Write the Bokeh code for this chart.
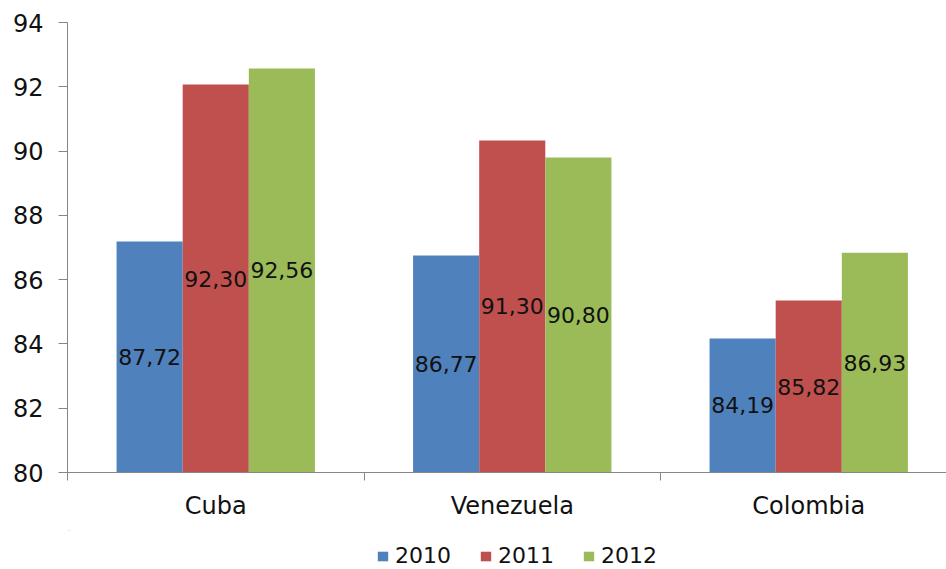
from bokeh.plotting import figure
from bokeh.layouts import column
from bokeh.models import Range1d, FixedTicker, Legend, LegendItem, ColumnDataSource
from bokeh.core.properties import value
from bokeh.embed import file_html
from bokeh.resources import INLINE

countries = ["Cuba", "Venezuela", "Colombia"]
years = ["2010", "2011", "2012"]
bar_2010 = [87.19, 86.75, 84.17]
bar_2011 = [92.07, 90.33, 85.35]
bar_2012 = [92.57, 89.80, 86.84]
labels_2010 = ["87,72", "86,77", "84,19"]
labels_2011 = ["92,30", "91,30", "85,82"]
labels_2012 = ["92,56", "90,80", "86,93"]
y_ticks = [80, 82, 84, 86, 88, 90, 92, 94]
colors = ["#4F81BD", "#C0504D", "#9BBB59"]

FONT = "DejaVu Sans"
BASE = 80
BAR_W = 0.223
TXT = "#111111"

p = figure(width=946, height=530, output_backend="svg", toolbar_location=None,
           x_range=Range1d(0, 879 / 296.5), y_range=Range1d(80, 94),
           min_border_left=67, min_border_right=0, min_border_top=22,
           min_border_bottom=58)
p.outline_line_color = None
p.xgrid.visible = False
p.ygrid.visible = False

# separate strip holding the legend (its frame is aligned with the main frame)
lg = figure(width=946, height=39, output_backend="svg", toolbar_location=None,
            x_range=Range1d(0, 879), y_range=Range1d(0, 39),
            min_border_left=0, min_border_right=0, min_border_top=0, min_border_bottom=0)
lg.outline_line_color = None
lg.axis.visible = False
lg.xgrid.visible = False
lg.ygrid.visible = False

series = [bar_2010, bar_2011, bar_2012]
labels = [labels_2010, labels_2011, labels_2012]
items = []
for k, (vals, labs, col, yr) in enumerate(zip(series, labels, colors, years)):
    offset = (k - 1) * BAR_W
    xs = [i + 0.5 + offset for i in range(len(countries))]
    src = ColumnDataSource(dict(x=xs, top=vals, mid=[(BASE + v) / 2 for v in vals], lab=labs))
    p.vbar(x="x", top="top", bottom=BASE, width=BAR_W, fill_color=col, line_color=None, source=src)
    p.text(x="x", y="mid", text="lab", source=src, text_align="center", text_baseline="middle",
           text_font=value(FONT), text_font_size="22px", text_color=TXT)
    # legend key renderer: same data, lies outside the strip's visible range
    key = lg.vbar(x="x", top="top", bottom=BASE, width=BAR_W, fill_color=col, line_color=None,
                  source=src)
    items.append(LegendItem(label=yr, renderers=[key]))

# axes
AX = "#868686"
p.yaxis.ticker = FixedTicker(ticks=y_ticks)
p.yaxis.axis_line_color = AX
p.yaxis.major_tick_line_color = AX
p.yaxis.major_tick_out = 9
p.yaxis.major_tick_in = 0
p.yaxis.minor_tick_line_color = None
p.yaxis.major_label_standoff = 15
p.yaxis.major_label_text_font = FONT
p.yaxis.major_label_text_font_size = "24px"
p.yaxis.major_label_text_color = TXT

p.xaxis.ticker = FixedTicker(ticks=[i + 0.5 for i in range(len(countries))],
                             minor_ticks=list(range(len(countries) + 1)))
p.xaxis.major_label_overrides = {i + 0.5: c for i, c in enumerate(countries)}
p.xaxis.axis_line_color = AX
p.xaxis.major_tick_line_color = None
p.xaxis.major_tick_out = 0
p.xaxis.major_tick_in = 0
p.xaxis.minor_tick_line_color = AX
p.xaxis.minor_tick_out = 8
p.xaxis.minor_tick_in = 0
p.xaxis.major_label_standoff = 11
p.xaxis.major_label_text_font = FONT
p.xaxis.major_label_text_font_size = "24px"
p.xaxis.major_label_text_color = TXT

legend = Legend(items=items, orientation="horizontal", location=(309, 1),
                glyph_width=13, glyph_height=12, label_standoff=6, spacing=28,
                label_text_font=FONT, label_text_font_size="22px", label_text_color=TXT,
                border_line_color=None, background_fill_alpha=0, padding=0, margin=0)
lg.add_layout(legend, "center")

layout = column(p, lg, spacing=0)
open("out.html", "w").write(file_html(layout, INLINE))
